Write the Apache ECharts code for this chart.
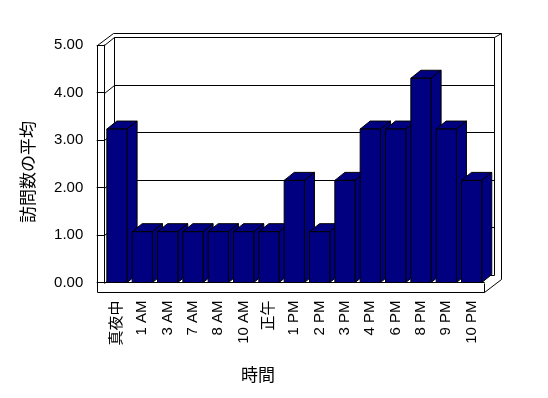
<!DOCTYPE html>
<html>
<head>
<meta charset="utf-8">
<script src="https://cdn.jsdelivr.net/npm/echarts@6/dist/echarts.min.js"></script>
<style>
  html, body { margin: 0; padding: 0; background: #fff; }
  #chart { width: 548px; height: 398px; }
</style>
</head>
<body>
<div id="chart"></div>
<script>
// 時間帯ごとの訪問数の平均
const hours = ["真夜中", "1 AM", "3 AM", "7 AM", "8 AM", "10 AM", "正午", "1 PM", "2 PM", "3 PM", "4 PM", "6 PM", "8 PM", "9 PM", "10 PM"]
const avgVisits = [3.23, 1.07, 1.07, 1.07, 1.07, 1.07, 1.07, 2.15, 1.07, 2.15, 3.23, 3.23, 4.3, 3.23, 2.15]
const yTicks = [0, 1, 2, 3, 4, 5]

const FONT = "'Liberation Sans', 'Noto Sans CJK JP', sans-serif"
const DX = 10   // 奥行き（横）
const DY = -8   // 奥行き（縦）
const WALL = 7.6
const FLOOR = 9.2

const px = (v) => Math.round(v) + 0.5

const line = (x1, y1, x2, y2) => ({
  type: "line",
  shape: { x1: px(x1), y1: px(y1), x2: px(x2), y2: px(y2) },
  style: { stroke: "#000", lineWidth: 1 }
})

// 3D風の壁と床
const renderFrame = (params, api) => {
  const cs = params.coordSys
  const L = cs.x, R = cs.x + cs.width
  const T = cs.y, B = cs.y + cs.height
  const kids = []
  // 奥の壁
  kids.push(line(L + DX, T + DY, R + DX, T + DY))
  kids.push(line(L + DX, T + DY, L + DX, B + DY))
  kids.push(line(R + DX, T + DY, R + DX, B + DY))
  kids.push(line(L + DX, B + DY, R + DX, B + DY))
  yTicks.forEach((v) => {
    const y = api.coord([0, v])[1]
    if (v > 0 && v < 5) kids.push(line(L + DX, y + DY, R + DX, y + DY))
    kids.push(line(L, y, L + DX, y + DY))
  })
  // 左の壁
  kids.push(line(L - WALL, T, L - WALL, B + FLOOR))
  kids.push(line(L - WALL, T, L, T))
  kids.push(line(L - WALL, T, L - WALL + 16, T - 12))
  // 上端と右端
  kids.push(line(L - WALL + 16, T - 12, R + 17, T - 12))
  kids.push(line(R + DX, T + DY, R + 17, T - 12))
  kids.push(line(R + 17, T - 12, R + 17, B + FLOOR - 13))
  // 床
  kids.push(line(L - WALL, B + FLOOR, R, B + FLOOR))
  kids.push(line(R, B, R, B + FLOOR))
  kids.push(line(R, B + FLOOR, R + 17, B + FLOOR - 13))
  return { type: "group", children: kids }
}

// 3D風の棒
const renderBar = (params, api) => {
  const top = api.coord([api.value(0), api.value(1)])
  const base = api.coord([api.value(0), 0])
  const w = api.size([1, 0])[0] * 0.8
  const x0 = top[0] - w / 2, x1 = x0 + w
  const y0 = top[1], y1 = base[1]
  const st = { fill: "#000080", stroke: "#000", lineWidth: 1 }
  return {
    type: "group",
    children: [
      { type: "polygon", shape: { points: [[x1, y0], [x1 + DX, y0 + DY], [x1 + DX, y1 + DY], [x1, y1]] }, style: st },
      { type: "polygon", shape: { points: [[x0, y0], [x0 + DX, y0 + DY], [x1 + DX, y0 + DY], [x1, y0]] }, style: st },
      { type: "rect", shape: { x: x0, y: y0, width: w, height: y1 - y0 }, style: st }
    ]
  }
}

const chart = echarts.init(document.getElementById("chart"))
chart.setOption({
  animation: false,
  backgroundColor: "#fff",
  grid: { left: 104.3, right: 63.7, top: 45, bottom: 115.5 },
  xAxis: {
    type: "category",
    data: hours,
    axisLine: { lineStyle: { color: "#000", width: 1 } },
    axisTick: { length: FLOOR, lineStyle: { color: "#000" } },
    axisLabel: { rotate: 90, margin: 18, color: "#000", fontSize: 15, fontFamily: FONT, interval: 0 }
  },
  yAxis: {
    type: "value",
    min: 0,
    max: 5,
    interval: 1,
    axisLine: { show: true, lineStyle: { color: "#000", width: 1 } },
    axisTick: { show: true, length: WALL, lineStyle: { color: "#000" } },
    splitLine: { show: false },
    axisLabel: { margin: 21, color: "#000", fontSize: 15, fontFamily: FONT, formatter: (v) => v.toFixed(2) }
  },
  graphic: [
    {
      type: "text", x: 29, y: 172, rotation: Math.PI / 2,
      style: { text: "訪問数の平均", fontSize: 17, fontFamily: FONT, fill: "#000", align: "center", verticalAlign: "middle" }
    },
    {
      type: "text", x: 258, y: 376,
      style: { text: "時間", fontSize: 17, fontFamily: FONT, fill: "#000", align: "center", verticalAlign: "middle" }
    }
  ],
  series: [
    { type: "custom", data: [[0, 0]], renderItem: renderFrame, silent: true, z: 1 },
    { type: "custom", data: avgVisits.map((v, i) => [i, v]), renderItem: renderBar, z: 2 }
  ]
})
</script>
</body>
</html>
